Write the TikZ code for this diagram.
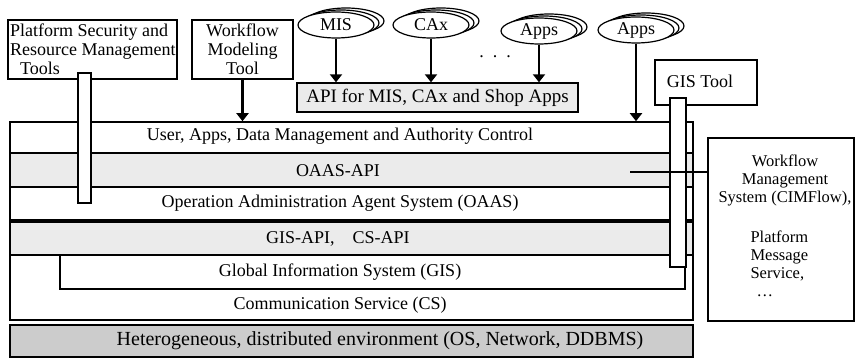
\documentclass[tikz,border=0pt]{standalone}
\usepackage{fontspec}
\setmainfont{Liberation Serif}
\usetikzlibrary{shapes.geometric,arrows.meta}

\begin{document}
\begin{tikzpicture}[x=1pt,y=-1pt,
    every node/.style={font=\fontsize{18}{19}\selectfont},
    tool/.style={draw,line width=1.4pt,fill=white,inner sep=0pt},
    layer/.style={draw,line width=1.6pt,fill=white,inner sep=0pt,minimum width=683pt},
    grain/.style={fill=gray!16},
    stem/.style={draw,line width=1.2pt,fill=white,inner sep=0pt},
    app/.style={ellipse,draw,line width=1.2pt,fill=white,inner sep=0pt,
      minimum width=76pt,minimum height=26pt},
    feed/.style={line width=2.6pt,-{Triangle[width=12pt,length=8pt]}}]
  \useasboundingbox (0,0) rectangle (856,358);
  % tools and applications on top
  \node[tool,minimum width=169pt,minimum height=59pt] (sec) at (92.5,49.5) {};
  \node[anchor=west,align=left,inner sep=0pt] (sectxt) at (10,49.5)
    {Platform Security and\\Resource Management\\\hspace*{10pt}Tools};
  \node[tool,minimum width=101pt,minimum height=59pt,align=center] (wfm)
    at (242.5,49.5) {Workflow\\Modeling\\Tool};
  \foreach \n/\t/\x/\y in {mis/MIS/336/25, cax/CAx/431/25, appa/Apps/539/31, appb/Apps/636/30}{
    \node[app] at (\x+10,\y-4) {};
    \node[app] at (\x+5,\y-2) {};
    \node[app] (\n) at (\x,\y) {\t};
  }
  \node (dots) at (495,57) {.\enspace.\enspace.};
  \node[tool,grain,minimum width=281pt,minimum height=29pt,
    font=\fontsize{19}{20}\selectfont] (api) at (437.5,97.5) {API for MIS, CAx and Shop Apps};
  \node[tool,minimum width=102pt,minimum height=45pt] (gistool) at (706,82.5) {};
  \node (gistxt) at (700,81) {GIS Tool};
  % platform layers
  \node[layer,minimum height=31pt] (uac) at (351.5,137.5) {};
  \node (uactxt) at (340,136) {User, Apps, Data Management and Authority Control};
  \node[layer,grain,minimum height=34pt] (oaasapi) at (351.5,170) {};
  \node (oaasapitxt) at (338,171) {OAAS-API};
  \node[layer,minimum height=33pt] (oaas) at (351.5,203.5) {};
  \node (oaastxt) at (340,203) {Operation Administration Agent System (OAAS)};
  \node[layer,minimum height=98pt] (cs) at (351.5,271) {};
  \node[layer,grain,minimum height=33pt] (gisapi) at (351.5,238.5) {};
  \node (gisapitxt) at (338,238.5) {GIS-API,\quad CS-API};
  \node[layer,minimum width=625pt,minimum height=34pt] (gis) at (372.5,272) {};
  \node (gistxt2) at (340,272) {Global Information System (GIS)};
  \node (cstxt) at (340,305) {Communication Service (CS)};
  \node[layer,fill=gray!40,minimum height=32pt] (het) at (351.5,341) {};
  \node[font=\fontsize{20}{21}\selectfont] (hettxt) at (380,341)
    {Heterogeneous, distributed environment (OS, Network, DDBMS)};
  % tool stems
  \node[stem,minimum width=13pt,minimum height=130pt] (secstem) at (84.5,138) {};
  \node[stem,minimum width=16pt,minimum height=169pt] (gisstem) at (678,182.5) {};
  % arrows
  \draw[feed] (wfm.south) -- (wfm.south |- uac.north);
  \draw[feed] (mis.south) -- (mis.south |- api.north);
  \draw[feed] (cax.south) -- (cax.south |- api.north);
  \draw[feed] (appa.south) -- (appa.south |- api.north);
  \draw[feed] (appb.south) -- (appb.south |- uac.north);
  % workflow management
  \node[tool,minimum width=146pt,minimum height=183pt] (cimflow) at (781,229.5) {};
  \node[align=center,font=\fontsize{16.5}{18}\selectfont] (cimtxt) at (785,180)
    {Workflow\\Management\\System (CIMFlow),};
  \node[align=left,anchor=west,font=\fontsize{16.5}{18}\selectfont] (msgtxt) at (747,264)
    {Platform\\Message\\Service,\\\hspace*{6pt}\dots};
  \coordinate (tap) at (630,172);
  \draw[line width=1.3pt] (tap) -- (tap -| cimflow.west);
\end{tikzpicture}
\end{document}
